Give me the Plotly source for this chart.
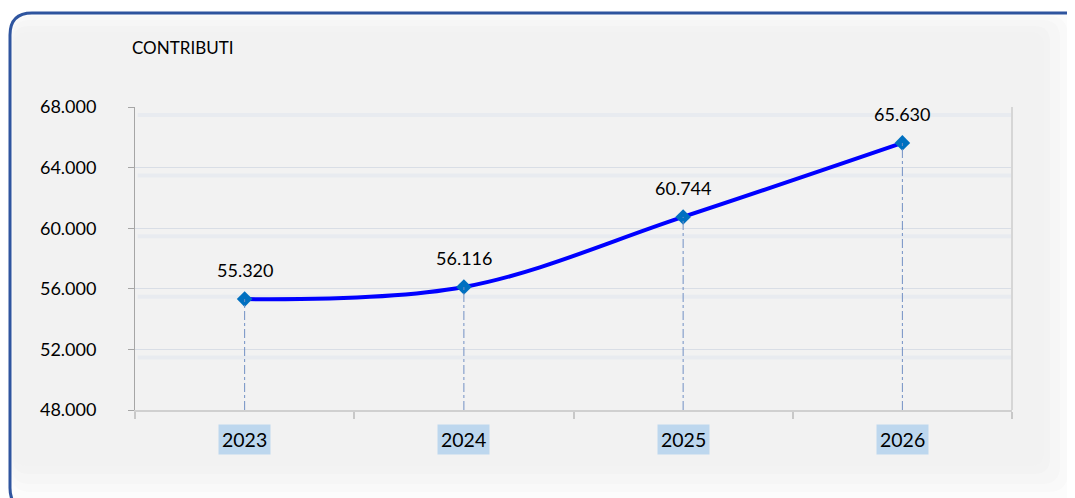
import plotly.graph_objects as go

# ---- data ----
years = ["2023", "2024", "2025", "2026"]
contributi = [55320, 56116, 60744, 65630]
y_ticks = [48000, 52000, 56000, 60000, 64000, 68000]
title_text = "CONTRIBUTI"

# ---- layout geometry (window pixels; page body has an 8px margin) ----
OFF = 8
W, H = 1075 - OFF, 498 - OFF
ML, MR, MT, MB = 135 - OFF, 63, 107 - OFF, 88
PW, PH = W - ML - MR, H - MT - MB


def px(x):  # window x -> paper
    return (x - OFF - ML) / PW


def py(y):  # window y -> paper
    return 1 - (y - OFF - MT) / PH


def rounded_path(x0, y0, x1, y1, r):
    rx, ry = r / PW, r / PH
    X0, X1, Y0, Y1 = px(x0), px(x1), py(y0), py(y1)
    return (f"M {X0+rx},{Y0} L {X1-rx},{Y0} Q {X1},{Y0} {X1},{Y0-ry} "
            f"L {X1},{Y1+ry} Q {X1},{Y1} {X1-rx},{Y1} "
            f"L {X0+rx},{Y1} Q {X0},{Y1} {X0},{Y1+ry} "
            f"L {X0},{Y0-ry} Q {X0},{Y0} {X0+rx},{Y0} Z")


def fmt(v):
    return f"{v:,}".replace(",", ".")


FONT = "Lato"
idx = list(range(len(years)))

fig = go.Figure()
fig.add_trace(go.Scatter(
    x=idx, y=contributi, mode="lines+markers",
    line=dict(color="#0000FF", width=4, shape="spline", smoothing=1),
    marker=dict(symbol="diamond", size=12, color="#0070C0"),
    hoverinfo="skip", showlegend=False,
))

shapes = []
# background panel with soft shadow
panels = [((10, 13, 1095, 510, 22), "#FCFCFC"),
          ((11, 16, 1068, 492, 20), "#F9F9F9"),
          ((12, 20, 1060, 484, 18), "#F6F6F6"),
          ((13, 26, 1050, 474, 16), "#F3F3F3"),
          ((14, 32, 1044, 466, 14), "#F2F2F2")]
for (x0, y0, x1, y1, r), c in panels:
    shapes.append(dict(type="path", xref="paper", yref="paper", layer="below",
                       path=rounded_path(x0, y0, x1, y1, r),
                       fillcolor=c, line=dict(width=0)))
# grid shadow bands
for t in y_ticks[1:]:
    shapes.append(dict(type="line", xref="paper", yref="y", layer="below",
                       x0=0.003, x1=1, ysizemode="pixel", yanchor=t, y0=-8, y1=-8,
                       line=dict(color="#E8EBF0", width=4)))
# drop lines
for i, v in zip(idx, contributi):
    shapes.append(dict(type="line", xref="x", yref="y", x0=i, x1=i,
                       y0=y_ticks[0], y1=v, layer="above",
                       line=dict(color="#7290C4", width=1, dash="dashdot")))
# right frame line
shapes.append(dict(type="line", xref="paper", yref="paper", x0=1, x1=1, y0=0, y1=1,
                   line=dict(color="#D6D6D6", width=2)))
# border
shapes.append(dict(type="path", xref="paper", yref="paper", layer="above",
                   path=rounded_path(10, 13, 1095, 510, 22),
                   fillcolor="rgba(0,0,0,0)", line=dict(color="#2F559F", width=3)))

annotations = []
for i, v in zip(idx, contributi):
    annotations.append(dict(x=i, y=v, xref="x", yref="y", text=fmt(v),
                            showarrow=False, yshift=29,
                            font=dict(family=FONT, size=18, color="#000000")))
for i, yr in zip(idx, years):
    annotations.append(dict(x=i, xref="x", y=py(439), yref="paper", text=yr,
                            showarrow=False, bgcolor="#BDD7EE", borderpad=3,
                            yanchor="middle",
                            font=dict(family=FONT, size=19.5, color="#000000")))
annotations.append(dict(x=px(130), y=py(47), xref="paper", yref="paper",
                        text=title_text, showarrow=False, xanchor="left",
                        yanchor="middle",
                        font=dict(family=FONT, size=17, color="#000000")))

fig.update_layout(
    width=W, height=H,
    margin=dict(l=ML, r=MR, t=MT, b=MB, pad=0),
    paper_bgcolor="#FFFFFF", plot_bgcolor="rgba(0,0,0,0)",
    separators=",.",
    shapes=shapes, annotations=annotations,
    font=dict(family=FONT, size=18, color="#000000"),
)
fig.update_xaxes(
    range=[-0.5, len(years) - 0.5], showticklabels=False,
    tickmode="array", tickvals=[i - 0.5 for i in range(len(years) + 1)],
    ticks="outside", ticklen=7, tickcolor="#C8C8C8",
    tickwidth=2, showgrid=False, showline=True, linecolor="#D0D0D0", linewidth=2,
    zeroline=False, fixedrange=True,
)
fig.update_yaxes(
    range=[y_ticks[0], y_ticks[-1]], tickvals=y_ticks, tickformat=",.0f",
    ticks="outside", ticklen=6, tickcolor="#A6A6A6", ticklabelstandoff=28,
    showline=True, linecolor="#A6A6A6", linewidth=1,
    showgrid=True, gridcolor="#D9DEE6", gridwidth=1, zeroline=False,
    tickfont=dict(family=FONT, size=18, color="#000000"), fixedrange=True,
)

fig.write_html("out.html", config={"displayModeBar": False})
